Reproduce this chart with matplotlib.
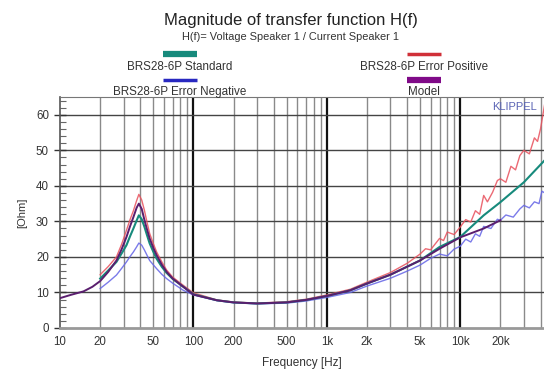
import numpy as np
import matplotlib
matplotlib.use("Agg")
import matplotlib.pyplot as plt
from matplotlib.ticker import FixedLocator, NullFormatter, MultipleLocator

plt.rcParams['font.family'] = ['Liberation Sans', 'DejaVu Sans']

# ---- data ----
f_model = [10, 12, 15, 17.5, 20, 23, 26.5, 29, 31.5, 33.5, 35.5, 37.5, 39, 41, 43, 45, 47, 50, 53,
           58, 63, 70, 84, 100, 150, 200, 300, 500, 700,
           1000, 1500, 2000, 3000, 5000, 7000, 10000, 15000, 20000]
z_model = [8.4, 9.3, 10.3, 11.6, 13.2, 15.8, 19.0, 22.2, 25.6, 28.6, 31.2, 33.8, 35.0, 33.5, 30.3,
           27.6, 25.2, 22.6, 20.5, 17.8, 15.8, 13.9, 11.6, 9.4, 7.8,
           7.2, 6.9, 7.2, 7.9, 9.0, 10.6, 12.5, 15.0, 19.0, 22.3, 25.5, 28.0, 30.3]

f_std = [20, 23, 26.5, 29, 31.5, 33.5, 35.5, 37.5, 39, 41, 43, 45, 47, 50, 53, 58, 63, 70, 84, 100,
         150, 200, 300, 500, 700, 1000, 1500, 2000, 3000, 5000, 7000, 10000, 15000, 20000,
         30000, 43000]
z_std = [13.9, 16.2, 18.6, 21.0, 23.3, 25.8, 28.0, 30.2, 31.7, 30.6, 28.4, 26.0, 23.8, 21.5, 19.5,
         17.2, 15.5, 13.8, 11.6, 9.5, 7.8, 7.2, 6.9, 7.2, 7.9,
         9.0, 10.6, 12.5, 15.0, 19.0, 22.8, 25.6, 31.7, 35.4, 41.0, 47.2]

f_pos = [20, 23, 26.5, 29, 31.5, 33.5, 35.5, 37.5, 39, 41, 43, 45, 47, 50, 53, 58, 63, 70, 84, 100,
         150, 200, 300, 500, 700, 1000, 1500, 2000,
         3000, 4000, 5000, 5500, 6000, 7000, 7500, 8000, 9000, 10000, 11000, 12000, 13000,
         14000, 15000, 16000, 17500, 19000, 20000, 22000, 24000, 26000, 28000, 30000, 33000,
         36000, 38000, 40000, 43000]
z_pos = [15.0, 17.3, 20.0, 23.6, 27.5, 30.5, 33.0, 35.8, 37.6, 36.0, 33.0, 29.6, 26.6, 23.8, 21.4,
         18.6, 16.3, 14.3, 12.0, 9.9, 7.9, 7.3, 7.0, 7.4, 8.1,
         9.3, 10.9, 12.9, 15.6, 18.2, 20.8, 22.3, 22.0, 25.2, 24.6, 27.0, 26.3, 28.4, 30.5,
         29.8, 33.0, 32.0, 37.3, 35.5, 38.2, 41.5, 42.0, 41.0, 45.5, 44.5, 48.5, 50.0, 49.0,
         53.5, 52.5, 56.0, 63.0]

f_neg = [20, 23, 26.5, 29, 31.5, 33.5, 35.5, 37.5, 39, 41, 43, 45, 47, 50, 53, 58, 63, 70, 84, 100,
         150, 200, 300, 500, 700, 1000, 1500, 2000,
         3000, 4000, 5000, 6000, 7000, 8000, 9000, 10000, 11000, 12000, 13000, 14000, 15000,
         17000, 19000, 20000, 22000, 25000, 28000, 30000, 33000, 36000, 39000, 41000, 43000]
z_neg = [11.1, 12.9, 14.9, 16.8, 18.6, 20.1, 21.4, 22.8, 23.9, 23.3, 21.9, 20.4, 19.0, 17.8, 16.7,
         15.1, 13.9, 12.6, 10.6, 9.3, 7.7, 7.1, 6.8, 7.0, 7.6,
         8.6, 10.0, 11.8, 14.0, 16.0, 17.7, 19.6, 20.8, 20.3, 22.2, 23.0, 25.0, 24.2, 26.5,
         25.8, 28.6, 28.0, 30.6, 30.3, 31.8, 31.2, 33.5, 34.5, 33.8, 35.5, 35.0, 38.5, 38.0]

ticks_f = [10, 20, 50, 100, 200, 500, 1000, 2000, 5000, 10000, 20000]
tick_lbl = ['10', '20', '50', '100', '200', '500', '1k', '2k', '5k', '10k', '20k']

c_std = '#178a7c'
c_pos = '#e8505c'
c_neg = '#6464e6'
c_mod = '#5a1e6e'

fig = plt.figure(figsize=(5.44, 3.70), dpi=100)
ax = fig.add_axes([60/544, 1 - 328/370, 1 - 60/544, (328 - 97)/370])

xmin, xmax = 10, 10 ** (4 + 84/133.7)
ax.set_xscale('log')
ax.set_xlim(xmin, xmax)
ax.set_ylim(0, 65)

# grid
for dec in [10, 100, 1000, 10000]:
    for m in range(1, 10):
        v = dec * m
        if v <= xmin or v >= xmax:
            continue
        if m == 1:
            ax.axvline(v, color='#111111', lw=1.6, zorder=1)
        else:
            ax.axvline(v, color='#8a8a8a', lw=1.0, zorder=1)
for yv in range(10, 65, 10):
    ax.axhline(yv, color='#444444', lw=1.0, zorder=1)

ax.plot(f_pos, z_pos, color=c_pos, lw=1.0, alpha=0.85, zorder=3)
ax.plot(f_neg, z_neg, color=c_neg, lw=1.0, alpha=0.85, zorder=3)
ax.plot(f_std, z_std, color=c_std, lw=1.5, zorder=4)
ax.plot(f_model, z_model, color=c_mod, lw=1.4, zorder=5)

ax.xaxis.set_major_locator(FixedLocator(ticks_f))
ax.set_xticklabels(tick_lbl)
ax.xaxis.set_minor_formatter(NullFormatter())
ax.tick_params(axis='x', which='both', length=0, labelsize=8.3, pad=6, colors='#333333')
ax.yaxis.set_major_locator(MultipleLocator(10))
ax.yaxis.set_minor_locator(MultipleLocator(2))
ax.tick_params(axis='y', which='major', direction='inout', length=8, width=1, labelsize=8.3,
               colors='#333333', pad=4)
ax.tick_params(axis='y', which='minor', direction='in', length=4, width=0.8, color='#666666')

ax.spines['right'].set_visible(False)
ax.spines['top'].set_color('#777777')
ax.spines['left'].set_color('#555555')
ax.spines['left'].set_linewidth(1.2)
ax.spines['bottom'].set_color('#999999')
ax.spines['bottom'].set_linewidth(2.0)

ax.set_ylabel('[Ohm]', fontsize=8.0, color='#333333', labelpad=6)
ax.set_xlabel('Frequency [Hz]', fontsize=8.5, color='#333333', labelpad=6)

ax.text(0.985, 0.955, 'KLIPPEL', transform=ax.transAxes, ha='right', va='center',
        fontsize=8, color='#5a64b4')

# titles
fig.text(291/544, 1 - 20/370, 'Magnitude of transfer function H(f)', ha='center', va='center',
         fontsize=12, color='#222222')
fig.text(291/544, 1 - 36.5/370, 'H(f)= Voltage Speaker 1 / Current Speaker 1', ha='center',
         va='center', fontsize=7.9, color='#333333')

# legend entries
def leg(xc, ybar, ytxt, color, lw, label):
    fig.add_artist(plt.Line2D([(xc - 17)/544, (xc + 17)/544], [1 - ybar/370, 1 - ybar/370],
                              color=color, lw=lw, solid_capstyle='butt'))
    fig.text(xc/544, 1 - ytxt/370, label, ha='center', va='center', fontsize=8.4,
             color='#333333')

leg(180, 54, 67.5, c_std, 4.5, 'BRS28-6P Standard')
leg(424, 54, 67.5, '#d03038', 2.5, 'BRS28-6P Error Positive')
leg(180, 80, 92, '#2828c0', 2.5, 'BRS28-6P Error Negative')
leg(424, 80, 92, '#800a88', 4.5, 'Model')

fig.savefig('out.png', dpi=100)
